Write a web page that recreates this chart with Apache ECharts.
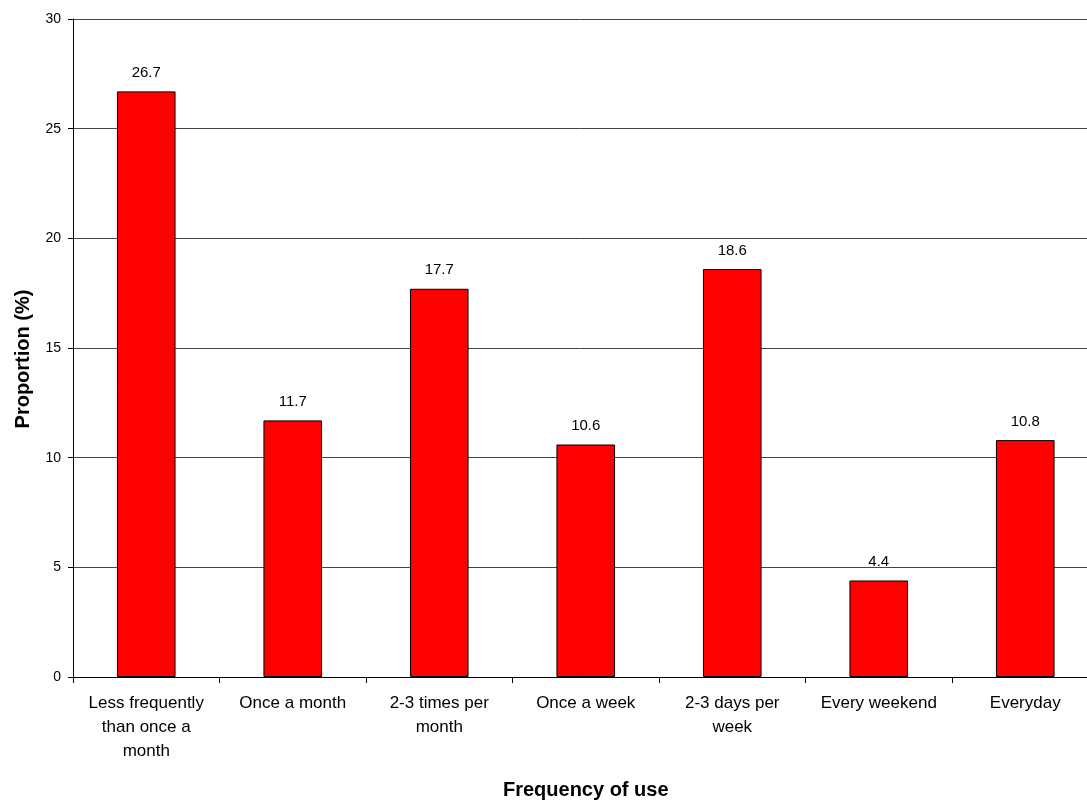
<!DOCTYPE html>
<html>
<head>
<meta charset="utf-8">
<script src="https://cdn.jsdelivr.net/npm/echarts@6/dist/echarts.min.js"></script>
<style>
html,body{margin:0;padding:0;background:#fff;}
#chart{width:1087px;height:801px;}
</style>
</head>
<body>
<div id="chart"></div>
<script>
const categories = [
  "Less frequently\nthan once a\nmonth",
  "Once a month",
  "2-3 times per\nmonth",
  "Once a week",
  "2-3 days per\nweek",
  "Every weekend",
  "Everyday"
];
const proportions = [26.7, 11.7, 17.7, 10.6, 18.6, 4.4, 10.8];
const yTicks = { min: 0, max: 30, interval: 5 };
const xTitle = "Frequency of use";
const yTitle = "Proportion (%)";

const FONT = "'Liberation Sans', Arial, sans-serif";
const chart = echarts.init(document.getElementById('chart'), null, { renderer: 'canvas' });
chart.setOption({
  backgroundColor: '#ffffff',
  animation: false,
  grid: { left: 73, top: 19, bottom: 124, width: 1025.5, containLabel: false, outerBoundsMode: 'none' },
  xAxis: {
    type: 'category',
    data: categories,
    name: xTitle,
    nameLocation: 'middle',
    nameGap: 103,
    nameTextStyle: { fontFamily: FONT, fontSize: 20, fontWeight: 'bold', color: '#000' },
    axisLine: { lineStyle: { color: '#000', width: 1 } },
    axisTick: { show: true, alignWithLabel: false, inside: false, length: 6, lineStyle: { color: '#000' } },
    axisLabel: {
      interval: 0, margin: 14, color: '#000',
      fontFamily: FONT, fontSize: 17, lineHeight: 24
    }
  },
  yAxis: {
    type: 'value',
    min: yTicks.min, max: yTicks.max, interval: yTicks.interval,
    name: yTitle,
    nameLocation: 'middle',
    nameRotate: 90,
    nameGap: 40,
    nameTextStyle: { fontFamily: FONT, fontSize: 20, fontWeight: 'bold', color: '#000', padding: [0, 22, 0, 0] },
    axisLine: { show: true, lineStyle: { color: '#000', width: 1 } },
    axisTick: { show: true, inside: false, length: 5, lineStyle: { color: '#000' } },
    axisLabel: { margin: 12, color: '#000', fontFamily: FONT, fontSize: 14 },
    splitLine: { show: true, lineStyle: { color: '#444', width: 1 } }
  },
  series: [{
    type: 'bar',
    data: proportions,
    barWidth: '40%',
    itemStyle: { color: '#ff0000', borderColor: '#000', borderWidth: 1 },
    label: {
      show: true, position: 'top', distance: 11, color: '#000',
      fontFamily: FONT, fontSize: 15,
      formatter: p => p.value.toFixed(1)
    }
  }]
});
</script>
</body>
</html>
